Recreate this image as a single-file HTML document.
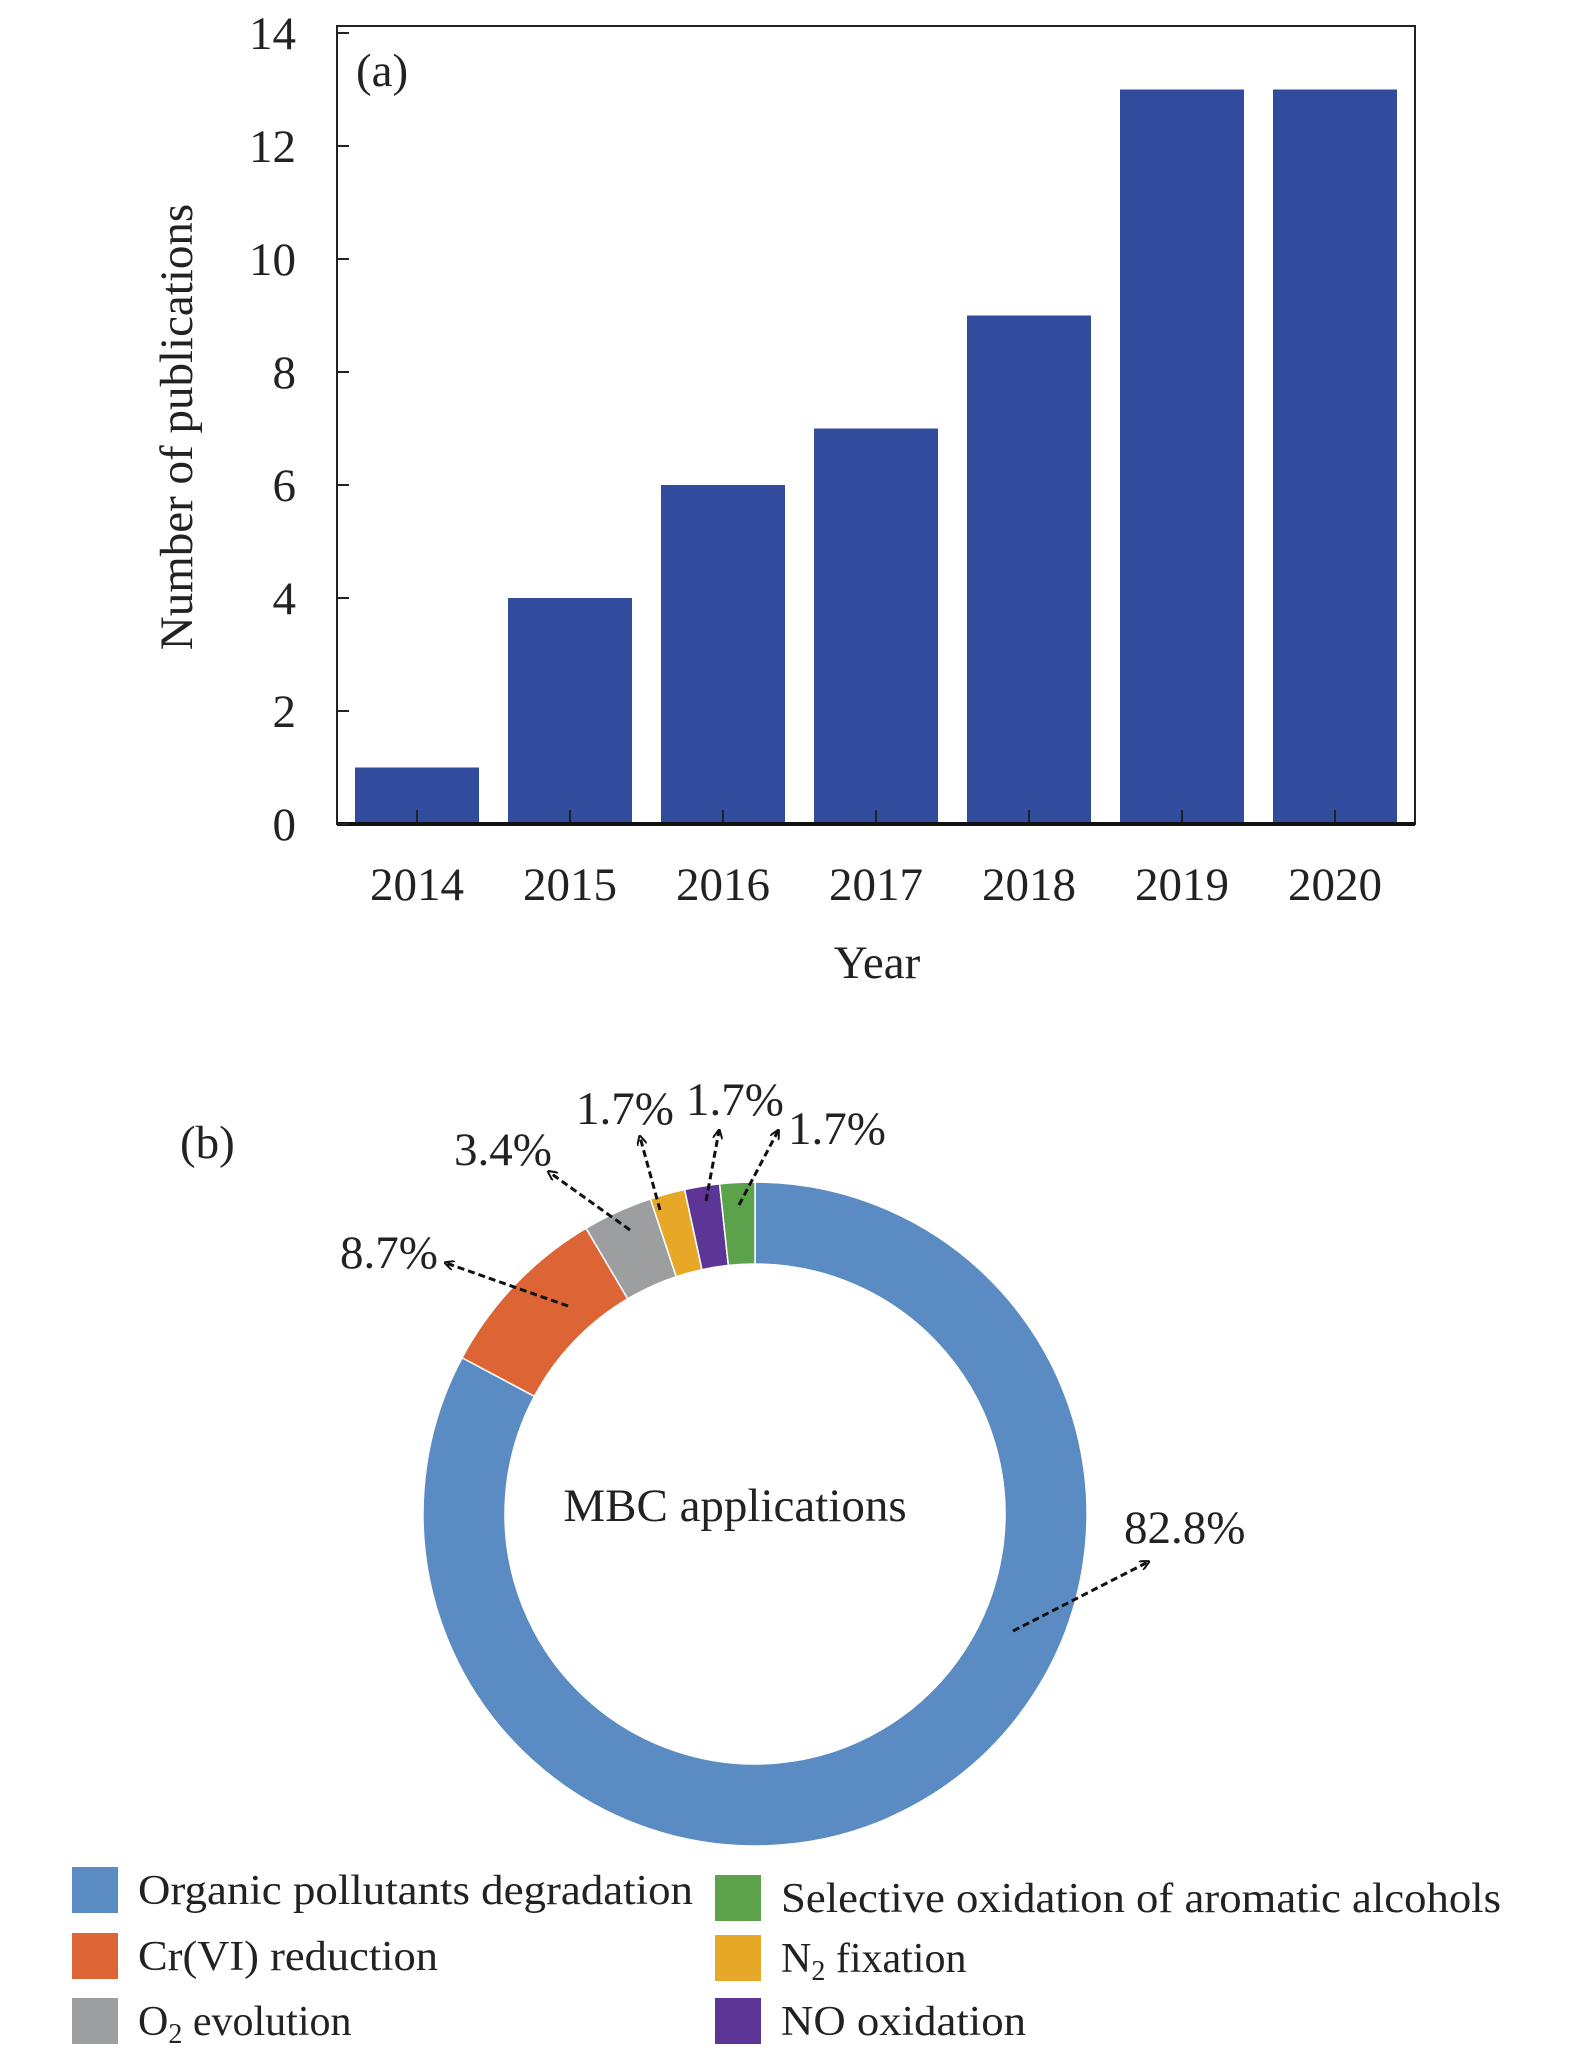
<!DOCTYPE html>
<html><head><meta charset="utf-8">
<style>
html,body{margin:0;padding:0;background:#fff;}
svg{display:block;font-family:"Liberation Serif",serif;}
</style></head>
<body>
<svg id="c" width="1575" height="2067" viewBox="0 0 1575 2067" xmlns="http://www.w3.org/2000/svg">
<g id="barChart"></g>
<g id="donut"></g>
</svg>
<script>
const years = ["2014","2015","2016","2017","2018","2019","2020"];
const counts = [1,4,6,7,9,13,13];
const yTicks = [0,2,4,6,8,10,12,14];
const sliceNames = ["Organic pollutants degradation","Cr(VI) reduction","O2 evolution","N2 fixation","NO oxidation","Selective oxidation of aromatic alcohols"];
const slicePct = [82.8,8.7,3.4,1.7,1.7,1.7];
const sliceLabels = ["82.8%","8.7%","3.4%","1.7%","1.7%","1.7%"];

const NS="http://www.w3.org/2000/svg";
function mk(tag, attrs, parent, text){
  const e=document.createElementNS(NS,tag);
  for(const k in attrs) e.setAttribute(k,attrs[k]);
  if(text!==undefined) e.textContent=text;
  parent.appendChild(e); return e;
}
// ---- bar chart ----
const bc=document.getElementById('barChart');
const L=337,R=1415,T=26,B=824, ST=33, yMax=14;
const y=v=>B-(v/yMax)*(B-ST);
const band=(R-L-160)/(years.length-1);
const x=i=>L+80+band*i;
const frame=mk('rect',{x:L,y:T,width:R-L,height:B-T,fill:'none',stroke:'#222','stroke-width':2},bc);


counts.forEach((v,i)=>{
  const r=mk('rect',{x:x(i)-62,y:y(v),width:124,height:B-y(v),fill:'#314c9c'},bc);
  
  
  const tk=mk('line',{x1:x(i),x2:x(i),y1:B,y2:B-14,stroke:'#222','stroke-width':2},bc);
  
  
  const t=mk('text',{x:x(i),y:900,'font-size':47,'text-anchor':'middle',fill:'#222'},bc,years[i]);
  
  
});
const ax=mk('line',{x1:L,x2:R,y1:B,y2:B,stroke:'#111','stroke-width':4},bc);


yTicks.forEach(v=>{
  const tk=mk('line',{x1:L,x2:L+12,y1:y(v),y2:y(v),stroke:'#222','stroke-width':2},bc);
  
  
  const t=mk('text',{x:296,y:y(v)+16,'font-size':47,'text-anchor':'end',fill:'#222'},bc,String(v));
  
  
});
const yl=mk('text',{x:0,y:0,transform:'translate(192,427) rotate(-90)','font-size':47,'text-anchor':'middle',fill:'#222'},bc,'Number of publications');


const xl=mk('text',{x:877,y:978,'font-size':47,'text-anchor':'middle',fill:'#222'},bc,'Year');


const pa=mk('text',{x:356,y:86,'font-size':47,fill:'#222'},bc,'(a)');



// ---- donut ----
const dg=document.getElementById('donut');
const cx=755,cy=1514,ro=332,ri=250;
const colors=['#5b8bc3','#dc6435','#9d9ea0','#e6a826','#5d3596','#5ba24b'];
const total=slicePct.reduce((a,b)=>a+b,0);
let a0=0;
function pt(r,a){return [cx+r*Math.sin(a), cy-r*Math.cos(a)];}
slicePct.forEach((p,i)=>{
  const a1=a0+p/total*2*Math.PI;
  const [x1,y1]=pt(ro,a0),[x2,y2]=pt(ro,a1),[x3,y3]=pt(ri,a1),[x4,y4]=pt(ri,a0);
  const lg=(a1-a0)>Math.PI?1:0;
  const d=`M${x1},${y1} A${ro},${ro} 0 ${lg} 1 ${x2},${y2} L${x3},${y3} A${ri},${ri} 0 ${lg} 0 ${x4},${y4} Z`;
  const s=mk('path',{d:d,fill:colors[i],stroke:'#fff','stroke-width':1.5},dg);
  
  
  a0=a1;
});
const defs=mk('defs',{},dg);
const mkr=mk('marker',{id:'ah',markerWidth:10,markerHeight:10,refX:8,refY:5,orient:'auto',markerUnits:'userSpaceOnUse'},defs);
mk('path',{d:'M0,0 L10,5 L0,10',fill:'none',stroke:'#111','stroke-width':2},mkr);
const arrows=[[1013,1631,1148,1562],[568,1306,446,1263],[630,1230,549,1172],[660,1210,640,1137],[706,1201,719,1131],[739,1205,778,1131]];
const labelPos=[[1124,1543,'start'],[340,1268,'start'],[454,1165,'start'],[576,1124,'start'],[686,1115,'start'],[788,1144,'start']];
sliceLabels.forEach((lb,i)=>{
  const a=arrows[i];
  const l=mk('line',{x1:a[0],y1:a[1],x2:a[2],y2:a[3],stroke:'#111','stroke-width':3,'stroke-dasharray':'7,4','marker-end':'url(#ah)'},dg);
  
  
  const p=labelPos[i];
  const t=mk('text',{x:p[0],y:p[1],'font-size':47,fill:'#222'},dg,lb);
  
  
});
const ct=mk('text',{x:735,y:1521,'font-size':47,'text-anchor':'middle',fill:'#222'},dg,'MBC applications');


const pb=mk('text',{x:180,y:1158,'font-size':47,fill:'#222'},dg,'(b)');



// legend
const legPos=[[72,1890,555],[72,1956,300],[72,2021,230],[715,1958,0],[715,2021,245],[715,1898,720]];
sliceNames.forEach((n,i)=>{
  const p=legPos[i];
  const g=mk('g',{},dg);
  
  
  mk('rect',{x:p[0],y:p[1]-23,width:46,height:46,fill:colors[i]},g);
  const t=mk('text',{x:p[0]+66,y:p[1]+14,'font-size':42,fill:'#222'},g);
  if(n==='O2 evolution'||n==='N2 fixation'){
    const parts=n.split('2');
    const t1=document.createElementNS(NS,'tspan');t1.textContent=parts[0];t.appendChild(t1);
    const t2=document.createElementNS(NS,'tspan');t2.textContent='2';t2.setAttribute('font-size','28');t2.setAttribute('dy','8');t.appendChild(t2);
    const t3=document.createElementNS(NS,'tspan');t3.textContent=parts[1];t3.setAttribute('dy','-8');t.appendChild(t3);
  } else {
    t.textContent=n;
    if(p[2]) {t.setAttribute('textLength',p[2]); t.setAttribute('lengthAdjust','spacingAndGlyphs');}
  }
});
</script>
</body></html>
